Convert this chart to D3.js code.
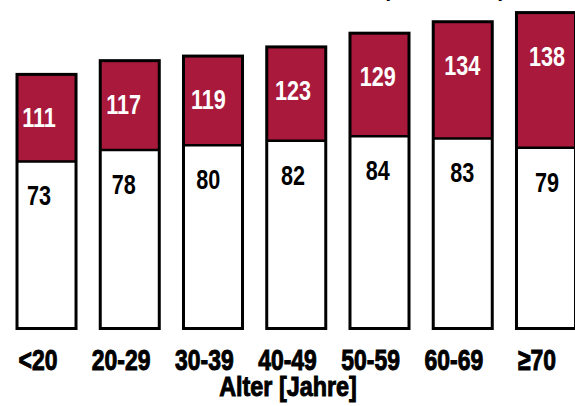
<!DOCTYPE html>
<html>
<head>
<meta charset="utf-8">
<script src="https://cdn.jsdelivr.net/npm/d3@7"></script>
<style>
  body { margin: 0; background: #fff; }
  svg { display: block; }
  text { font-family: "Liberation Sans", Arial, sans-serif; font-weight: bold; }
</style>
</head>
<body>
<div id="chart"></div>
<script>
const ageGroups = ["<20", "20-29", "30-39", "40-49", "50-59", "60-69", "≥70"];
const systolic = [111, 117, 119, 123, 129, 134, 138];
const diastolic = [73, 78, 80, 82, 84, 83, 79];
const xTitle = "Alter [Jahre]";
const topTitle = "(Mittelwerte)";

const width = 575, height = 406;
const barRed = "#a8193b";

const rows = ageGroups.map((g, i) => ({ g, sys: systolic[i], dia: diastolic[i] }));

const svg = d3.select("#chart").append("svg")
  .attr("width", width)
  .attr("height", height);

const x = d3.scaleBand().domain(ageGroups).range([17, 575.5]).paddingInner(0.291);
// value labels and tick labels sit a bit left of the bar centres
const xVal = d3.scalePoint().domain(ageGroups).range([39, 547]);
const xTick = d3.scalePoint().domain(ageGroups).range([38, 537]);
const y = d3.scaleLinear().domain([0, 140]).range([328.5, 8]);

const bars = svg.append("g")
  .selectAll("g")
  .data(rows)
  .enter()
  .append("g");

// white part: diastolic
bars.append("rect")
  .attr("x", (d) => x(d.g))
  .attr("width", x.bandwidth())
  .attr("y", (d) => y(d.dia))
  .attr("height", (d) => y(0) - y(d.dia))
  .attr("fill", "#fff");

// red part: diastolic up to systolic
bars.append("rect")
  .attr("x", (d) => x(d.g))
  .attr("width", x.bandwidth())
  .attr("y", (d) => y(d.sys))
  .attr("height", (d) => y(d.dia) - y(d.sys))
  .attr("fill", barRed);

bars.append("line")
  .attr("x1", (d) => x(d.g))
  .attr("x2", (d) => x(d.g) + x.bandwidth())
  .attr("y1", (d) => y(d.dia))
  .attr("y2", (d) => y(d.dia))
  .attr("stroke", "#000")
  .attr("stroke-width", 2.5);

bars.append("rect")
  .attr("x", (d) => x(d.g))
  .attr("width", x.bandwidth())
  .attr("y", (d) => y(d.sys))
  .attr("height", (d) => y(0) - y(d.sys))
  .attr("fill", "none")
  .attr("stroke", "#000")
  .attr("stroke-width", 3);

bars.append("text")
  .attr("transform", (d) => `translate(${xVal(d.g)},${y(d.sys) + 53}) scale(0.9,1.15)`)
  .attr("text-anchor", "middle")
  .attr("font-size", 24)
  .attr("fill", "#fff")
  .text((d) => d.sys);

bars.append("text")
  .attr("transform", (d) => `translate(${xVal(d.g)},${y(d.dia) + 44}) scale(0.9,1.15)`)
  .attr("text-anchor", "middle")
  .attr("font-size", 24)
  .attr("fill", "#000")
  .text((d) => d.dia);

// category labels (condensed look)
svg.append("g")
  .selectAll("text")
  .data(ageGroups)
  .enter()
  .append("text")
  .attr("transform", (d) => `translate(${xTick(d)},370) scale(0.85,1.12)`)
  .attr("text-anchor", "middle")
  .attr("font-size", 27)
  .attr("fill", "#000")
  .attr("stroke", "#000")
  .attr("stroke-width", 0.9)
  .text((d) => d);

svg.append("text")
  .attr("transform", "translate(288,396) scale(0.9,1.05)")
  .attr("text-anchor", "middle")
  .attr("font-size", 26)
  .attr("stroke", "#000")
  .attr("stroke-width", 0.9)
  .text(xTitle);

// title above is cut off by the frame, only its descenders show
svg.append("text")
  .attr("transform", "translate(383,-4) scale(0.8,1)")
  .attr("font-size", 26)
  .text(topTitle);
</script>
</body>
</html>
